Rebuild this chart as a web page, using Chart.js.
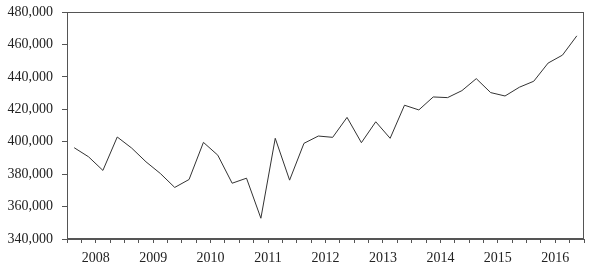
<!DOCTYPE html>
<html>
<head>
<meta charset="utf-8">
<script src="https://cdn.jsdelivr.net/npm/chart.js@4/dist/chart.umd.min.js"></script>
<style>
html,body{margin:0;padding:0;background:#fff;}
#wrap{width:589px;height:268px;}
</style>
</head>
<body>
<div id="wrap"><canvas id="c" width="589" height="268"></canvas></div>
<script>
const quarters = [
 "2008Q1","2008Q2","2008Q3","2008Q4","2009Q1","2009Q2","2009Q3","2009Q4",
 "2010Q1","2010Q2","2010Q3","2010Q4","2011Q1","2011Q2","2011Q3","2011Q4",
 "2012Q1","2012Q2","2012Q3","2012Q4","2013Q1","2013Q2","2013Q3","2013Q4",
 "2014Q1","2014Q2","2014Q3","2014Q4","2015Q1","2015Q2","2015Q3","2015Q4",
 "2016Q1","2016Q2","2016Q3","2016Q4"
];
const values = [
 396300,390700,382300,402900,396100,387600,380400,371800,
 376700,399600,391700,374400,377500,352800,402100,376300,
 399000,403500,402700,415000,399400,412300,402100,422500,
 419600,427600,427200,431500,438900,430300,428200,433600,
 437300,448500,453400,465300
];
const years = ["2008","2009","2010","2011","2012","2013","2014","2015","2016"];
const yTicks = [340000,360000,380000,400000,420000,440000,460000,480000];

const points = values.map((v,i)=>({x:i,y:v}));
const FONT = {family:"'Liberation Serif','Times New Roman',serif", size:14};

const frame = {
  id:'frame',
  afterDraw(chart){
    const a = chart.chartArea, ctx = chart.ctx;
    ctx.save();
    ctx.strokeStyle = '#555';
    ctx.lineWidth = 1;
    ctx.strokeRect(Math.round(a.left)+0.5, Math.round(a.top)+0.5, Math.round(a.right-a.left)-1, Math.round(a.bottom-a.top)-1);
    ctx.restore();
  }
};

new Chart(document.getElementById('c'), {
  type:'line',
  data:{ datasets:[{ label:'series', data:points, borderColor:'#333', borderWidth:1, pointRadius:0, tension:0, fill:false }] },
  options:{
    responsive:false, animation:false,
    layout:{padding:{left:0,right:5,top:12,bottom:0}},
    plugins:{legend:{display:false}, tooltip:{enabled:false}},
    scales:{
      x:{
        type:'linear', min:-0.5, max:quarters.length-0.5,
        afterBuildTicks(s){ const t=[]; for(let i=0;i<=quarters.length;i++) t.push({value:i-0.5}); s.ticks=t; },
        afterFit(s){ s.height = 29; s.paddingLeft = 0; s.paddingRight = 0; },
        ticks:{ autoSkip:false, maxRotation:0, color:'#222', font:FONT, padding:7,
          callback(v){ const k=v-1.5; if(k>=0 && k%4===0){ return years[k/4]; } return ''; } },
        grid:{ drawOnChartArea:false, drawTicks:true, tickLength:4, color:'#555' },
        border:{ display:true, color:'#555' }
      },
      y:{
        min:340000, max:480000,
        afterBuildTicks(s){ s.ticks = yTicks.map(v=>({value:v})); },
        afterFit(s){ s.width = 67; s.paddingTop = 0; s.paddingBottom = 0; },
        ticks:{ color:'#222', font:FONT, padding:9, callback(v){ return v.toLocaleString('en-US'); } },
        grid:{ drawOnChartArea:false, drawTicks:true, tickLength:5, color:'#555' },
        border:{ display:true, color:'#555' }
      }
    }
  },
  plugins:[frame]
});
</script>
</body>
</html>
